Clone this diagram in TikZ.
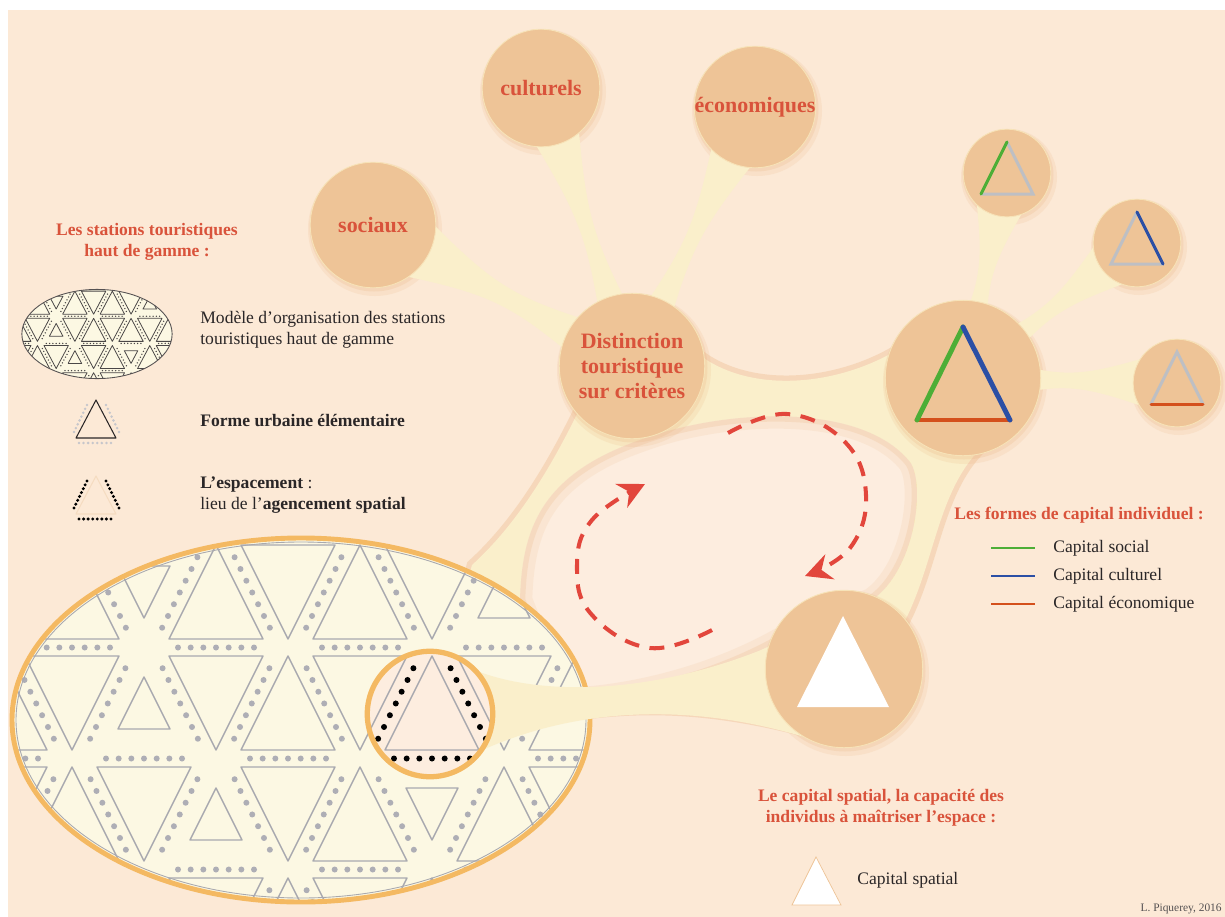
\documentclass[tikz,border=0pt]{standalone}
\usepackage{fontspec}
\setmainfont{Liberation Serif}
\usepackage{tikz}
\usetikzlibrary{arrows.meta, calc}

\definecolor{bgpeach}{HTML}{FCE9D6}
\definecolor{holepeach}{HTML}{FDEDDF}
\definecolor{stemyel}{HTML}{FAEFCB}
\definecolor{circfill}{HTML}{EEC497}
\definecolor{circline}{HTML}{F7E3B8}
\definecolor{shadetan}{HTML}{E9B07A}
\definecolor{creamfill}{HTML}{FCF8E3}
\definecolor{rimorange}{HTML}{F4B962}
\definecolor{titlered}{HTML}{D9533B}
\definecolor{looped}{HTML}{E2463C}
\definecolor{gridgray}{HTML}{A9A9AF}
\definecolor{dotgray}{HTML}{AEAEB5}
\definecolor{inkdark}{HTML}{2A2627}
\definecolor{capgreen}{HTML}{4DAE37}
\definecolor{capblue}{HTML}{2B4FA5}
\definecolor{capred}{HTML}{D4501C}
\definecolor{sidegray}{HTML}{BEBFC3}

\pgfdeclarelayer{back}
\pgfdeclarelayer{stems}
\pgfsetlayers{back,stems,main}

% yellow stem between two circles: from, to, half width at from, half width at to, waist
\newcommand\stem[5]{%
  \coordinate (stemmid) at ($(#1)!0.5!(#2)$);
  \fill[stemyel] ($(#1)!#3!90:(#2)$)
    .. controls ($(stemmid)!#5!90:(#2)$) and ($(stemmid)!#5!90:(#2)$) .. ($(#2)!#4!-90:(#1)$)
    -- ($(#2)!#4!90:(#1)$)
    .. controls ($(stemmid)!#5!-90:(#2)$) and ($(stemmid)!#5!-90:(#2)$) .. ($(#1)!#3!-90:(#2)$)
    -- cycle;
}

% triangle tessellation of the resort model: line colour, dot colour, line width, dot radius
\newcommand\resortgrid[4]{%
  \foreach \r in {0,...,3}{%
    \foreach \j in {-4,...,6}{%
      \pgfmathsetmacro\cx{216+72*\j}%
      \pgfmathsetmacro\cy{592+111*\r}%
      \pgfmathtruncatemacro\up{mod(\r+\j+10,2)==0}%
      \pgfmathtruncatemacro\code{100*\r+\j+10}%
      \def\s{47}%
      \ifnum\code=9 \def\s{26}\fi
      \ifnum\code=14 \def\s{26}\fi
      \ifnum\code=109 \def\s{26}\fi
      \ifnum\code=210 \def\s{26}\fi
      \ifnum\code=213 \def\s{26}\fi
      \ifnum\up=1
        \draw[#1, line width=#3, line join=round] ({\cx},{\cy-\s}) -- ({\cx+\s},{\cy+\s}) -- ({\cx-\s},{\cy+\s}) -- cycle;
        \pgfmathsetmacro\xa{\cx+12.5}\pgfmathsetmacro\xb{\cx+59.5}%
      \else
        \draw[#1, line width=#3, line join=round] ({\cx-\s},{\cy-\s}) -- ({\cx+\s},{\cy-\s}) -- ({\cx},{\cy+\s}) -- cycle;
        \pgfmathsetmacro\xa{\cx+59.5}\pgfmathsetmacro\xb{\cx+12.5}%
      \fi
      \foreach \k in {0,...,6}{%
        \fill[#2] ({\xa+(\xb-\xa)*(0.13+0.125*\k)},{\cy-47+94*(0.13+0.125*\k)}) circle (#4);
      }%
      \ifnum\up=1 \ifnum\r<3
        \foreach \k in {0,...,6}{\fill[#2] ({\cx-38+12.67*\k},{\cy+55.5}) circle (#4);}%
      \fi\fi
    }%
  }%
}

% legend triangle with its dotted gaps: x, y, triangle colour, dot colour, dot radius
\newcommand\elemicon[5]{%
  \draw[#3, line width=.6pt, line join=round] ({#1},{#2-19}) -- ({#1+20},{#2+19}) -- ({#1-20},{#2+19}) -- cycle;
  \foreach \k in {0,...,7}{%
    \fill[#4] ({#1-9-1.86*\k},{#2-14+3.86*\k}) circle (#5);
    \fill[#4] ({#1+10+1.86*\k},{#2-14+3.86*\k}) circle (#5);
    \fill[#4] ({#1-17+4.57*\k},{#2+24}) circle (#5);
  }%
}

\begin{document}
\begin{tikzpicture}[x=0.02cm, y=-0.02cm,
  blob/.style={circle, fill=circfill, draw=circline, line width=.5pt, inner sep=-4pt,
    minimum size={#1*1.134pt}, text=titlered, font=\bfseries\fontsize{12.5}{14.5}\selectfont, align=center},
  redtitle/.style={text=titlered, font=\bfseries\fontsize{10}{12}\selectfont, align=center, inner sep=0pt},
  legtext/.style={text=inkdark, font=\fontsize{10}{12}\selectfont, align=left, inner sep=0pt},
  captri/.style={line cap=round, line width=1.7pt},
  loopline/.style={looped, line width=2.3pt, dash pattern=on 8.5pt off 6pt,
    -{Stealth[length=15pt, width=15pt, inset=5pt]}},
  zoomring/.style={circle, draw=rimorange, line width=3pt, inner sep=0pt, minimum size=71.4pt},
]
\useasboundingbox (0,0) rectangle (1225,917);

% criteria and capital circles
\node[blob=63] (soc) at (373,225) {sociaux};
\node[blob=59] (cult) at (541,88) {culturels};
\node[blob=61] (eco) at (755,107) {économiques};
\node[blob=73] (dist) at (632,366) {Distinction\\touristique\\sur critères};
\node[blob=78] (cap) at (963,378) {};
\node[blob=44] (capsoc) at (1007,173) {};
\node[blob=44] (capcul) at (1137,243) {};
\node[blob=44] (capeco) at (1177,383) {};
\node[blob=79] (spat) at (844,669) {};

\begin{scope}[shift={(cap)}, captri, line width=2.8pt]
  \draw[capred] (-46,42) -- (47,42);
  \draw[capgreen] (-46,42) -- (0,-51);
  \draw[capblue] (0,-51) -- (47,42);
\end{scope}
\begin{scope}[shift={(capsoc)}, captri]
  \draw[sidegray] (-26,21) -- (26,21) -- (0,-31);
  \draw[capgreen] (-26,21) -- (0,-31);
\end{scope}
\begin{scope}[shift={(capcul)}, captri]
  \draw[sidegray] (26,21) -- (-26,21) -- (0,-31);
  \draw[capblue] (0,-31) -- (26,21);
\end{scope}
\begin{scope}[shift={(capeco)}, captri]
  \draw[sidegray] (-26,21) -- (0,-31) -- (26,21);
  \draw[capred] (-26,21) -- (26,21);
\end{scope}
\fill[white, shift={(spat)}] (-1,-53) -- (45,38) -- (-47,38) -- cycle;

% the loop between distinction and spatial capital
\draw[loopline] plot[smooth, tension=0.7] coordinates {(728,433) (787,414) (845,442) (866,495) (850,548) (805,576)};
\draw[loopline] plot[smooth, tension=0.7] coordinates {(712,630) (650,648) (592,615) (577,567) (592,520) (645,484)};

% legend, left
\node[redtitle] (resorttitle) at (147,242) {Les stations touristiques\\haut de gamme :};
\node[legtext, anchor=west] (resortmodel) at (200,330) {Modèle d’organisation des stations\\touristiques haut de gamme};
\node[legtext, anchor=west] (resortform) at (200,420) {\textbf{Forme urbaine élémentaire}};
\node[legtext, anchor=west] (resortgap) at (200,495) {\textbf{L’espacement} :\\lieu de l’\textbf{agencement spatial}};
\elemicon{96}{419}{inkdark}{dotgray!70}{1.4}
\elemicon{96}{495}{circfill!60}{black}{1.7}
\begin{scope}[shift={(97,334)}, xscale=0.26, yscale=0.245, shift={(-301,-720)}]
  \fill[creamfill] (301,720) ellipse [x radius=289, y radius=182];
  \begin{scope}
    \clip (301,720) ellipse [x radius=289, y radius=182];
    \resortgrid{inkdark!85}{inkdark!85}{0.45pt}{3}
  \end{scope}
  \draw[inkdark!80, line width=.5pt] (301,720) ellipse [x radius=289, y radius=182];
\end{scope}

% legend, right
\node[redtitle, anchor=west] (captitle) at (954,515) {Les formes de capital individuel :};
\node[legtext, anchor=west] (capsocleg) at (1053,548) {Capital social};
\node[legtext, anchor=west] (capculleg) at (1053,576) {Capital culturel};
\node[legtext, anchor=west] (capecoleg) at (1053,604) {Capital économique};
\draw[capgreen, line width=1.4pt] (991,548) -- (1035,548);
\draw[capblue, line width=1.4pt] (991,576) -- (1035,576);
\draw[capred, line width=1.4pt] (991,604) -- (1035,604);

\node[redtitle] (spattitle) at (881,808) {Le capital spatial, la capacité des\\individus à maîtriser l’espace :};
\fill[white, draw=circfill, line width=.4pt] (816,857) -- (841,905) -- (792,905) -- cycle;
\node[legtext, anchor=west] (spatleg) at (857,880) {Capital spatial};
\node[text=inkdark!80, font=\fontsize{6.5}{8}\selectfont, inner sep=0pt, anchor=east] (credit) at (1222,909) {L. Piquerey, 2016};

\def\holeoutline{(520,600) .. controls (522,530) and (540,475) .. (640,440)
  .. controls (720,410) and (860,400) .. (910,462)
  .. controls (926,485) and (915,570) .. (872,600) -- (780,640)
  .. controls (700,685) and (610,700) .. (560,700) -- cycle}

\begin{pgfonlayer}{back}
  \fill[white] (0,0) rectangle (1225,917);
  \fill[bgpeach] (8,10) rectangle (1225,917);
  \fill[stemyel, preaction={draw=shadetan, line width=6pt, opacity=.3}]
    (600,330) -- (665,312) .. controls (705,400) and (830,395) .. (905,345)
    -- (1005,430) .. controls (935,470) and (940,560) .. (900,630)
    -- (835,740) .. controls (700,700) and (600,700) .. (470,740)
    -- (445,680) -- (465,590) -- (472,565) .. controls (505,535) and (540,490) .. (578,412) -- cycle;
  \begin{scope}
    \clip \holeoutline;
    \fill[holepeach] \holeoutline;
    \draw[shadetan, line width=14pt, opacity=.12] \holeoutline;
    \draw[shadetan, line width=6pt, opacity=.2] \holeoutline;
  \end{scope}
  \foreach \n/\rr in {soc/63, cult/59, eco/61, dist/73, cap/78, capsoc/44, capcul/44, capeco/44, spat/79}{
    \fill[shadetan, opacity=.15] ($(\n)+(2,4)$) circle (\rr+4);
    \fill[shadetan, opacity=.2] ($(\n)+(1,2)$) circle (\rr+1.5);
  }
\end{pgfonlayer}

\begin{pgfonlayer}{stems}
  \stem{soc}{dist}{26pt}{18pt}{0pt}
  \stem{cult}{dist}{20pt}{14pt}{0pt}
  \stem{eco}{dist}{20pt}{14pt}{0pt}
  \stem{cap}{capsoc}{14pt}{20pt}{0pt}
  \stem{cap}{capcul}{14pt}{20pt}{0pt}
  \stem{cap}{capeco}{16pt}{20pt}{0pt}
  % resort model
  \fill[creamfill] (301,720) ellipse [x radius=289, y radius=182];
  \begin{scope}
    \clip (301,720) ellipse [x radius=287, y radius=180];
    \resortgrid{gridgray}{dotgray}{0.8pt}{3}
  \end{scope}
  \draw[gridgray, line width=.5pt] (301,720) ellipse [x radius=285, y radius=178];
  \draw[rimorange, line width=2.8pt] (301,720) ellipse [x radius=289, y radius=182];
  \fill[stemyel] (470,668) .. controls (530,695) and (650,700) .. (785,640)
    -- (820,742) .. controls (700,702) and (580,705) .. (478,752) -- cycle;
  % magnified elementary form
  \begin{scope}
    \clip (430,714) circle (62);
    \fill[holepeach] (430,714) circle (62);
    \resortgrid{gridgray}{holepeach}{0.8pt}{2.5}
    \foreach \k in {0,...,6}{
      \pgfmathsetmacro\t{0.13+0.125*\k}
      \fill[black] ({419.5-47*\t},{656+94*\t}) circle (3);
      \fill[black] ({444.5+47*\t},{656+94*\t}) circle (3);
      \fill[black] ({394+12.67*\k},758.5) circle (3);
    }
  \end{scope}
  \node[zoomring] (zoomc) at (430,714) {};
\end{pgfonlayer}
\end{tikzpicture}
\end{document}
